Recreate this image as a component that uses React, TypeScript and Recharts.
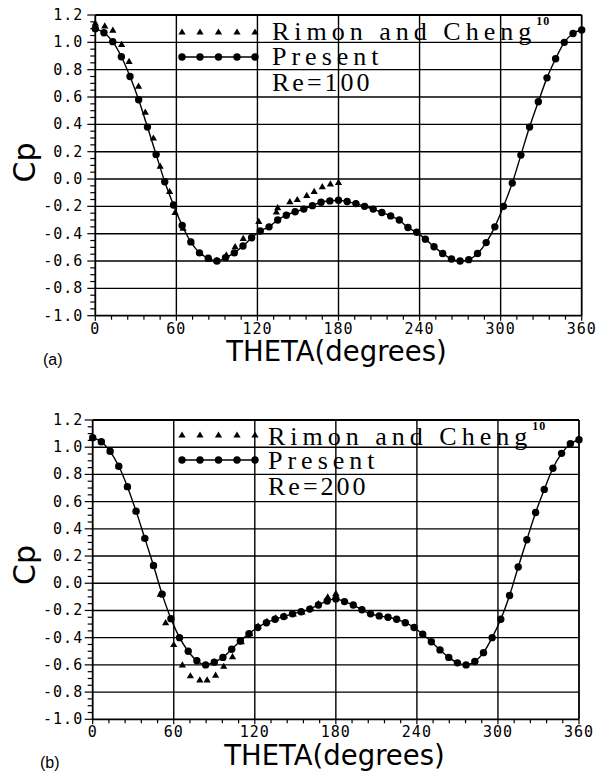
import React from 'react'
import { ComposedChart, Line, Scatter, XAxis, YAxis, ReferenceLine } from 'recharts'

// theta positions of the present computation (degrees)
const theta = [0, 6.4, 12.9, 19.3, 25.7, 32.1, 38.6, 45, 51.4, 57.9, 64.3, 70.7, 77.1, 83.6, 90, 96.4, 102.9, 109.3, 115.7, 122.1,
  128.6, 135, 141.4, 147.9, 154.3, 160.7, 167.1, 173.6, 180, 186.4, 192.9, 199.3, 205.7, 212.1, 218.6, 225, 231.4, 237.9, 244.3, 250.7,
  257.1, 263.6, 270, 276.4, 282.9, 289.3, 295.7, 302.1, 308.6, 315, 321.4, 327.9, 334.3, 340.7, 347.1, 353.6, 360]

const presentRe100 = [1.10, 1.07, 1.005, 0.895, 0.75, 0.58, 0.38, 0.18, -0.02, -0.19, -0.34, -0.46, -0.54, -0.58, -0.60, -0.575, -0.54, -0.49, -0.43, -0.38,
  -0.35, -0.30, -0.265, -0.24, -0.22, -0.195, -0.17, -0.16, -0.155, -0.165, -0.18, -0.20, -0.22, -0.245, -0.27, -0.30, -0.355, -0.39, -0.44, -0.495,
  -0.545, -0.585, -0.60, -0.59, -0.545, -0.465, -0.35, -0.20, -0.03, 0.175, 0.38, 0.565, 0.74, 0.88, 1.0, 1.065, 1.09]

const presentRe200 = [1.07, 1.04, 0.97, 0.86, 0.71, 0.53, 0.33, 0.13, -0.08, -0.26, -0.40, -0.50, -0.57, -0.60, -0.58, -0.545, -0.485, -0.425, -0.37, -0.325,
  -0.29, -0.265, -0.245, -0.225, -0.21, -0.19, -0.16, -0.13, -0.115, -0.135, -0.16, -0.195, -0.225, -0.24, -0.25, -0.265, -0.29, -0.325, -0.375, -0.43,
  -0.49, -0.545, -0.585, -0.60, -0.575, -0.51, -0.40, -0.265, -0.09, 0.12, 0.32, 0.52, 0.69, 0.845, 0.955, 1.025, 1.055]

// Rimon and Cheng
const rimonTheta100 = [0, 7, 13, 19.5, 25, 32, 37, 43, 48, 55, 59, 65, 71, 78, 84, 90, 97, 103.5, 109.5, 121, 134, 135, 144, 149.5, 156.5, 162, 168, 174, 180]
const rimonCp100 = [1.14, 1.12, 1.09, 0.985, 0.86, 0.68, 0.49, 0.30, 0.095, -0.09, -0.245, -0.36, -0.46, -0.545, -0.585, -0.595, -0.555, -0.495, -0.435, -0.31,
  -0.24, -0.21, -0.165, -0.15, -0.12, -0.09, -0.055, -0.035, -0.025]

const rimonTheta200 = [0, 6.4, 12.9, 19.3, 25.7, 32.1, 38.6, 45, 50, 54, 60, 66.4, 72.3, 79.3, 84.7, 91, 97, 103.5, 110, 116.3,
  122.5, 129, 135.5, 142, 148.5, 155, 161.5, 167, 174, 180]
const rimonCp200 = [1.07, 1.04, 0.97, 0.86, 0.71, 0.53, 0.33, 0.13, -0.08, -0.29, -0.45, -0.60, -0.68, -0.71, -0.71, -0.675, -0.61, -0.54, -0.43, -0.37,
  -0.315, -0.28, -0.255, -0.24, -0.225, -0.21, -0.185, -0.15, -0.10, -0.075]

const xTicks = [0, 12, 24, 36, 48, 60, 72, 84, 96, 108, 120, 132, 144, 156, 168, 180, 192, 204, 216, 228, 240, 252, 264, 276, 288, 300, 312, 324, 336, 348, 360]
const yTicks = [-1.0, -0.95, -0.9, -0.85, -0.8, -0.75, -0.7, -0.65, -0.6, -0.55, -0.5, -0.45, -0.4, -0.35, -0.3, -0.25, -0.2, -0.15, -0.1, -0.05,
  0, 0.05, 0.1, 0.15, 0.2, 0.25, 0.3, 0.35, 0.4, 0.45, 0.5, 0.55, 0.6, 0.65, 0.7, 0.75, 0.8, 0.85, 0.9, 0.95, 1.0, 1.05, 1.1, 1.15, 1.2]
const gridX = [0, 60, 120, 180, 240, 300, 360]
const gridY = [-1.0, -0.8, -0.6, -0.4, -0.2, 0, 0.2, 0.4, 0.6, 0.8, 1.0, 1.2]

const legendXs = [182, 200, 218.5, 237, 255]

const zip = (xs: number[], ys: number[]) => xs.map((t, i) => ({ theta: t, cp: ys[i] }))

const tickFont = '"DejaVu Sans Mono", monospace'

const Triangle = (props: any) => {
  const { cx, cy } = props
  if (cx == null || cy == null) return null
  return <polygon points={`${cx},${cy - 3.6} ${cx - 3.6},${cy + 2.6} ${cx + 3.6},${cy + 2.6}`} fill="#000" />
}

function XTick(props: any) {
  const { x, y, payload } = props
  const major = payload.value % 60 === 0
  return (
    <g>
      <line x1={x} x2={x} y1={y} y2={y + (major ? 5 : 4)} stroke="#000" strokeWidth={1.2} />
      {major && (
        <text x={x} y={y + 13} textAnchor="middle" dominantBaseline="central" fontFamily={tickFont} fontSize={15} letterSpacing={1} fill="#000">
          {payload.value}
        </text>
      )}
    </g>
  )
}

function makeYTick(gap: number) {
  return function YTick(props: any) {
    const { x, y, payload } = props
    const v = payload.value
    const major = Math.abs(Math.round(v * 5) - v * 5) < 1e-6
    return (
      <g>
        <line x1={x - (major ? 8 : 5)} x2={x} y1={y} y2={y} stroke="#000" strokeWidth={1.2} />
        {major && (
          <text x={x - gap} y={y} textAnchor="end" dominantBaseline="central" fontFamily={tickFont} fontSize={15} letterSpacing={1} fill="#000">
            {v.toFixed(1)}
          </text>
        )}
      </g>
    )
  }
}

interface PanelProps {
  present: number[]
  rimonTheta: number[]
  rimonCp: number[]
  top: number
  marginTop: number
  marginRight: number
  yWidth: number
  xHeight: number
  labelGap: number
}

function Panel({ present, rimonTheta, rimonCp, top, marginTop, marginRight, yWidth, xHeight, labelGap }: PanelProps) {
  const presentData = zip(theta, present)
  const rimonData = zip(rimonTheta, rimonCp)
  return (
    <div style={{ position: 'absolute', left: 0, top }}>
      <ComposedChart width={596} height={380} margin={{ top: marginTop, right: marginRight, bottom: 0, left: 0 }}>
        <XAxis dataKey="theta" type="number" domain={[0, 360]} ticks={xTicks} interval={0} tickSize={0} tickMargin={0}
          axisLine={false} tickLine={false} tick={<XTick />} height={xHeight} />
        <YAxis type="number" domain={[-1, 1.2]} ticks={yTicks} interval={0} tickSize={0} tickMargin={0}
          axisLine={false} tickLine={false} tick={makeYTick(labelGap)} width={yWidth} />
        {gridY.map((v) => (
          <ReferenceLine key={'y' + v} y={v} stroke="#000" strokeWidth={v === -1 || v === 1.2 ? 1.8 : 1.4} ifOverflow="visible" />
        ))}
        {gridX.map((v) => (
          <ReferenceLine key={'x' + v} x={v} stroke="#000" strokeWidth={v === 0 || v === 360 ? 1.8 : 1.4} ifOverflow="visible" />
        ))}
        <Scatter data={rimonData} dataKey="cp" shape={<Triangle />} isAnimationActive={false} />
        <Line data={presentData} dataKey="cp" type="monotone" stroke="#000" strokeWidth={1.4}
          dot={{ r: 3.7, fill: '#000', stroke: 'none' }} activeDot={false} isAnimationActive={false} />
      </ComposedChart>
    </div>
  )
}

function LegendBlock({ y1, y2, textX, b1, b2, b3, re }: { y1: number; y2: number; textX: number; b1: number; b2: number; b3: number; re: string }) {
  const serif = '"Liberation Serif", "Times New Roman", serif'
  return (
    <g>
      {legendXs.map((x) => (
        <polygon key={'t' + x} points={`${x},${y1 - 3.6} ${x - 3.6},${y1 + 2.6} ${x + 3.6},${y1 + 2.6}`} fill="#000" />
      ))}
      <line x1={legendXs[0]} x2={legendXs[legendXs.length - 1]} y1={y2} y2={y2} stroke="#000" strokeWidth={1.4} />
      {legendXs.map((x) => (
        <circle key={'c' + x} cx={x} cy={y2} r={3.7} fill="#000" />
      ))}
      <text x={textX} y={b1} fontFamily={serif} fontSize={26} letterSpacing={5} fill="#000">
        Rimon and Cheng<tspan fontSize={12} fontWeight="bold" letterSpacing={1} dy={-15}>10</tspan>
      </text>
      <text x={textX} y={b2} fontFamily={serif} fontSize={26} letterSpacing={5} fill="#000">Present</text>
      <text x={textX} y={b3} fontFamily={serif} fontSize={26} letterSpacing={3} fill="#000">{re}</text>
    </g>
  )
}

export default function App() {
  const sans = '"DejaVu Sans", sans-serif'
  return (
    <div style={{ position: 'absolute', left: 0, top: 0, width: 596, height: 775, background: '#fff', overflow: 'hidden' }}>
      <Panel present={presentRe100} rimonTheta={rimonTheta100} rimonCp={rimonCp100} top={0}
        marginTop={15} marginRight={14.3} yWidth={95.3} xHeight={64.3} labelGap={12} />
      <Panel present={presentRe200} rimonTheta={rimonTheta200} rimonCp={rimonCp200} top={400}
        marginTop={20} marginRight={17} yWidth={92.7} xHeight={60.7} labelGap={9.5} />
      <svg width={596} height={775} style={{ position: 'absolute', left: 0, top: 0, pointerEvents: 'none' }}>
        <LegendBlock y1={32} y2={57} textX={272} b1={40} b2={65} b3={91} re="Re=100" />
        <LegendBlock y1={435} y2={460} textX={268} b1={445} b2={469} b3={495} re="Re=200" />
        <text x={336.5} y={361} textAnchor="middle" fontFamily={sans} fontSize={27.5} fill="#000">THETA(degrees)</text>
        <text x={334.5} y={765} textAnchor="middle" fontFamily={sans} fontSize={27.5} fill="#000">THETA(degrees)</text>
        <text transform="translate(35,162.5) rotate(-90)" textAnchor="middle" fontFamily={sans} fontSize={30} fill="#000">Cp</text>
        <text transform="translate(35,565) rotate(-90)" textAnchor="middle" fontFamily={sans} fontSize={30} fill="#000">Cp</text>
        <text x={43} y={365} fontFamily='"Liberation Sans", Arial, sans-serif' fontSize={16} fill="#000">(a)</text>
        <text x={40} y={768} fontFamily='"Liberation Sans", Arial, sans-serif' fontSize={16} fill="#000">(b)</text>
      </svg>
    </div>
  )
}
